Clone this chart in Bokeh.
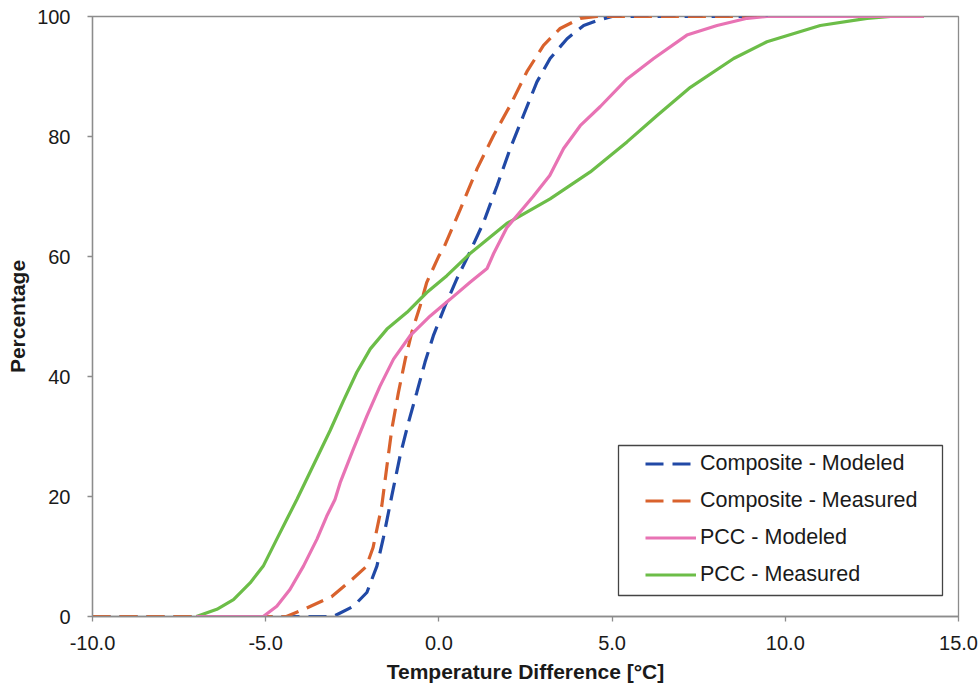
from bokeh.plotting import figure
from bokeh.models import (Legend, LegendItem, FixedTicker, NumeralTickFormatter,
                          BoxAnnotation, Range1d)
from bokeh.embed import file_html
from bokeh.resources import INLINE

# Cumulative distributions of temperature difference (°C) vs percentage
comp_mod_t = [-10, -3.05, -2.47, -2.08, -1.79, -1.6, -1.36, -1.12, -0.88, -0.64, -0.4,
              -0.16, 0.18, 0.52, 0.85, 1.29, 1.68, 2.06, 2.44, 2.83, 3.21, 3.7, 4.18,
              4.56, 5.0, 9.5]
comp_mod_p = [0, 0, 1.7, 4.0, 8.4, 13.2, 20.1, 26.8, 32.3, 37.3, 42.4, 46.8, 51.8, 56.3,
              60.2, 65.7, 71.8, 78.0, 83.5, 89.1, 93.0, 96.3, 98.5, 99.3, 100, 100]

comp_meas_t = [-10, -4.4, -3.9, -3.1, -2.5, -2.1, -1.9, -1.65, -1.5, -1.36, -1.17, -0.97,
               -0.78, -0.54, -0.35, 0.0, 0.13, 0.62, 1.1, 1.58, 2.06, 2.54, 3.02, 3.5,
               4.08, 4.56, 9.5]
comp_meas_p = [0, 0, 1.2, 3.3, 6.2, 8.3, 11.5, 18.4, 25.1, 31.2, 37.3, 42.9, 47.4, 51.8,
               55.7, 60.1, 61.3, 67.9, 74.6, 80.2, 85.2, 90.8, 95.2, 98.0, 99.7, 100, 100]

pcc_mod_t = [-7.0, -5.07, -4.68, -4.3, -3.91, -3.52, -3.24, -3.0, -2.85, -2.47, -2.08,
             -1.7, -1.31, -0.83, -0.25, 0.33, 0.9, 1.39, 1.58, 1.96, 2.72, 3.2, 3.6,
             4.08, 4.66, 5.43, 6.2, 7.16, 8.03, 8.9, 9.47, 14.0]
pcc_mod_p = [0, 0, 1.7, 4.5, 8.4, 12.9, 16.7, 19.5, 22.3, 27.9, 33.4, 38.4, 42.9, 46.8,
             50.1, 52.9, 55.7, 58.0, 60.5, 64.8, 70.0, 73.5, 78.0, 81.8, 85.0, 89.6,
             93.0, 96.9, 98.5, 99.7, 100, 100]

pcc_meas_t = [-7.0, -6.41, -5.93, -5.45, -5.07, -4.68, -4.39, -4.1, -3.7, -3.14, -2.76,
              -2.37, -1.98, -1.5, -0.92, -0.35, 0.23, 0.9, 1.96, 3.21, 4.37, 5.43, 6.3,
              7.26, 8.51, 9.47, 11.01, 12.36, 13.04, 14.0]
pcc_meas_p = [0, 1.2, 2.8, 5.6, 8.4, 12.9, 16.2, 19.5, 24.3, 31.0, 35.9, 40.7, 44.6,
              47.9, 50.7, 54.0, 56.8, 60.5, 65.5, 69.6, 74.1, 79.1, 83.5, 88.2, 93.0,
              95.8, 98.5, 99.7, 100, 100]

series_names = ["Composite - Modeled", "Composite - Measured", "PCC - Modeled", "PCC - Measured"]
x_ticks = [-10, -5, 0, 5, 10, 15]
y_ticks = [0, 20, 40, 60, 80, 100]

FONT = "Liberation Sans"
AXIS_GRAY = "#8c8c8c"

p = figure(width=980, height=686, output_backend="svg", toolbar_location=None,
           x_range=Range1d(-10, 15), y_range=Range1d(0, 100),
           min_border_left=92, min_border_right=22, min_border_top=16, min_border_bottom=70)
p.grid.visible = False
p.outline_line_color = AXIS_GRAY
p.outline_line_width = 1.3
p.background_fill_color = "white"
p.border_fill_color = "white"

r_blue = p.line(comp_mod_t, comp_mod_p, line_color="#2149a6", line_width=3.2,
                line_dash="18 9")
r_orange = p.line(comp_meas_t, comp_meas_p, line_color="#d9622d", line_width=3.2,
                  line_dash="18 9")
r_green = p.line(pcc_meas_t, pcc_meas_p, line_color="#6cbd48", line_width=3.2)
r_pink = p.line(pcc_mod_t, pcc_mod_p, line_color="#e873b4", line_width=3.2)

for ax in (p.xaxis[0], p.yaxis[0]):
    ax.axis_line_color = AXIS_GRAY
    ax.axis_line_width = 1.3
    ax.major_tick_line_color = AXIS_GRAY
    ax.major_tick_line_width = 1.3
    ax.major_tick_in = 0
    ax.major_tick_out = 5
    ax.minor_tick_line_color = None
    ax.major_label_text_font = FONT
    ax.major_label_text_font_size = "20px"
    ax.major_label_text_color = "#1a1a1a"
    ax.axis_label_text_font = FONT
    ax.axis_label_text_font_size = "21px"
    ax.axis_label_text_font_style = "bold"
    ax.axis_label_text_color = "#1a1a1a"

p.xaxis.ticker = FixedTicker(ticks=x_ticks)
p.xaxis.formatter = NumeralTickFormatter(format="0.0")
p.xaxis.axis_label = "Temperature Difference [°C]"
p.xaxis.major_label_standoff = 14
p.xaxis.axis_label_standoff = 7

p.yaxis.ticker = FixedTicker(ticks=y_ticks)
p.yaxis.axis_label = "Percentage"
p.yaxis.major_label_standoff = 17
p.yaxis.axis_label_standoff = 5

# Legend frame
frame_box = BoxAnnotation(left=526, right=850, bottom=21, top=171,
                          left_units="screen", right_units="screen",
                          bottom_units="screen", top_units="screen",
                          fill_color="white", fill_alpha=1.0,
                          line_color="#444444", line_alpha=1.0, line_width=1.3)
p.add_layout(frame_box)

legend = Legend(items=[LegendItem(label=series_names[0], renderers=[r_blue]),
                       LegendItem(label=series_names[1], renderers=[r_orange]),
                       LegendItem(label=series_names[2], renderers=[r_pink]),
                       LegendItem(label=series_names[3], renderers=[r_green])],
                location=(553, 29), padding=0, spacing=12,
                glyph_width=51, glyph_height=25, label_height=25, label_standoff=4,
                label_text_font=FONT, label_text_font_size="21.5px",
                label_text_color="#1a1a1a",
                border_line_alpha=0, background_fill_alpha=0)
p.add_layout(legend)

open("out.html", "w").write(file_html(p, INLINE))
